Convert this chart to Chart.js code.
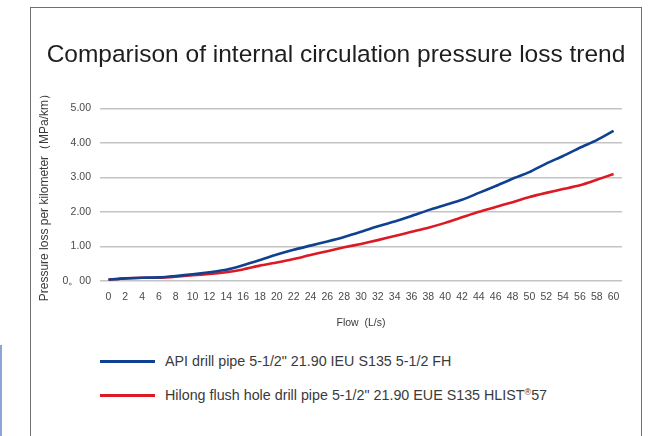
<!DOCTYPE html>
<html>
<head>
<meta charset="utf-8">
<script src="https://cdn.jsdelivr.net/npm/chart.js@4"></script>
<style>
  html, body { margin: 0; padding: 0; background: #fff; }
  body { width: 657px; height: 436px; position: relative; overflow: hidden; font-family: "Liberation Sans", Arial, sans-serif; }
  #frame { position: absolute; left: 30px; top: 7px; width: 610px; height: 460px; border: 1.5px solid #6f6f6f; }
  #chartWrap { position: absolute; left: 31px; top: 8px; width: 610px; height: 330px; }
  #legend { position: absolute; left: 100px; top: 350px; font-size: 14.3px; color: #3a3a3a; }
  .item { position: relative; height: 34px; }
  .swatch { position: absolute; left: 0; top: 10px; width: 55px; height: 3px; }
  .label { position: absolute; left: 65px; top: 2px; line-height: 18px; white-space: nowrap; }
  .reg { position: relative; top: -5px; font-size: 9px; }
  #edge { position: absolute; left: 0; top: 345px; width: 2px; height: 91px; background: #8ea4d4; }
</style>
</head>
<body>
<div id="edge"></div>
<div id="frame"></div>
<div id="chartWrap"><canvas id="c"></canvas></div>
<div id="legend"></div>
<script>
// Flow (L/s)
const flows = [0, 2, 4, 6, 8, 10, 12, 14, 16, 18, 20, 22, 24, 26, 28, 30,
               32, 34, 36, 38, 40, 42, 44, 46, 48, 50, 52, 54, 56, 58, 60];

// Pressure loss per kilometer (MPa/km)
const apiLoss = [0.03, 0.07, 0.09, 0.10, 0.14, 0.19, 0.25, 0.32, 0.45, 0.60, 0.76,
                 0.90, 1.02, 1.14, 1.27, 1.42, 1.58, 1.72, 1.88, 2.05, 2.20,
                 2.35, 2.55, 2.75, 2.96, 3.15, 3.40, 3.62, 3.86, 4.08, 4.35];
const hilongLoss = [0.03, 0.07, 0.09, 0.09, 0.12, 0.16, 0.20, 0.25, 0.33, 0.44, 0.53,
                    0.63, 0.75, 0.86, 0.97, 1.07, 1.18, 1.30, 1.42, 1.54, 1.68,
                    1.84, 2.00, 2.14, 2.28, 2.43, 2.55, 2.66, 2.77, 2.93, 3.10];

const seriesNames = [
    'API drill pipe 5-1/2" 21.90 IEU S135 5-1/2 FH',
    'Hilong flush hole drill pipe 5-1/2" 21.90 EUE S135 HLIST\u00AE57'
];
const seriesColors = ['#0f4190', '#dc1a24'];

// y tick labels as printed on the original (note the odd zero)
const yTickLabels = { 0: '0\u300200', 1: '1.00', 2: '2.00', 3: '3.00', 4: '4.00', 5: '5.00' };

const tickColor = '#4a4a4a';
const gridColor = '#c4c4c4';
const fontFamily = "'Liberation Sans', Arial, sans-serif";

// HTML legend, one row per series
const legendEl = document.getElementById('legend');
seriesNames.forEach((name, i) => {
    const row = document.createElement('div');
    row.className = 'item';
    const sw = document.createElement('div');
    sw.className = 'swatch';
    sw.style.background = seriesColors[i];
    const lb = document.createElement('div');
    lb.className = 'label';
    lb.innerHTML = name.replace('\u00AE', '<span class="reg">\u00AE</span>');
    row.appendChild(sw);
    row.appendChild(lb);
    legendEl.appendChild(row);
});

const ctx = document.getElementById('c').getContext('2d');
new Chart(ctx, {
    type: 'line',
    data: {
        labels: flows.map(String),
        datasets: [apiLoss, hilongLoss].map((vals, i) => ({
            label: seriesNames[i],
            data: vals,
            borderColor: seriesColors[i],
            backgroundColor: 'transparent',
            borderWidth: 2.6,
            pointRadius: 0,
            tension: 0.2
        }))
    },
    options: {
        responsive: true,
        maintainAspectRatio: false,
        animation: false,
        layout: { padding: { left: 0, right: 0, top: 0, bottom: 9 } },
        plugins: {
            legend: { display: false },
            tooltip: { enabled: false },
            title: {
                display: true,
                text: 'Comparison of internal circulation pressure loss trend',
                color: '#1e1e1e',
                font: { family: fontFamily, size: 24.5, weight: 'normal' },
                padding: { top: 33, bottom: 38 }
            }
        },
        scales: {
            x: {
                type: 'category',
                offset: true,
                grid: { display: false, drawTicks: false },
                border: { display: false },
                ticks: {
                    color: tickColor,
                    autoSkip: false,
                    maxRotation: 0,
                    padding: 10,
                    font: { family: fontFamily, size: 10.5 }
                },
                title: {
                    display: true,
                    text: 'Flow  (L/s)',
                    color: '#3a3a3a',
                    font: { family: fontFamily, size: 10.5 },
                    padding: { top: 3, bottom: 0 }
                }
            },
            y: {
                min: 0,
                max: 5,
                afterFit: scale => { scale.width = 69; },
                grid: { color: gridColor, lineWidth: 1.5, drawTicks: false },
                border: { display: false },
                ticks: {
                    stepSize: 1,
                    color: tickColor,
                    padding: 9,
                    font: { family: fontFamily, size: 10.5 },
                    callback: v => yTickLabels[v]
                },
                title: {
                    display: true,
                    text: 'Pressure loss per kilometer\uFF08MPa/km\uFF09',
                    color: '#3a3a3a',
                    font: { family: fontFamily, size: 12 },
                    padding: { top: 6, bottom: 0 }
                }
            },
            // empty right-hand spacer so the plot stops short of the frame
            yRight: {
                position: 'right',
                min: 0,
                max: 5,
                afterFit: scale => { scale.width = 19; },
                grid: { display: false, drawTicks: false },
                border: { display: false },
                ticks: { display: false }
            }
        }
    }
});
</script>
</body>
</html>
